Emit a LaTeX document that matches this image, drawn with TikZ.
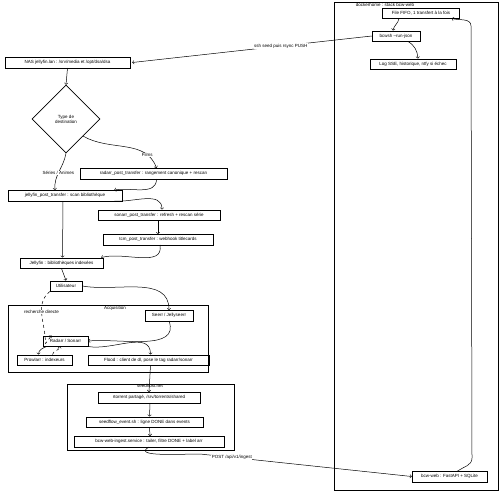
\documentclass[tikz,border=0pt]{standalone}
\usepackage{fontspec}
\setmainfont{Liberation Sans}
\usetikzlibrary{shapes.geometric}
\tikzset{
  boite/.style={draw, line width=0.5pt, inner sep=0pt, minimum height=10.5pt, font=\fontsize{4.5}{5}\selectfont},
  cadre/.style={draw, line width=0.6pt, inner sep=0pt},
  titre/.style={font=\fontsize{4.5}{5}\selectfont, inner sep=0.5pt},
  lien/.style={->, line width=0.5pt},
  etiq/.style={font=\fontsize{4.5}{5}\selectfont, fill=white, inner sep=0.5pt},
}
\begin{document}
\begin{tikzpicture}[x=1pt, y=-1pt]
\useasboundingbox (0,0) rectangle (500,493);
% Frames
              \node[cadre, minimum width=164, minimum height=488] (stack) at (416,246) {};
              \node[titre] (stacktitre) at (385,5) {dockerhome : stack bcw-web};
              \node[cadre, minimum width=200, minimum height=67] (acq) at (108,338.5) {};
              \node[titre] (acqtitre) at (115,308) {Acquisition};
              \node[cadre, minimum width=167, minimum height=66] (seed) at (150.5,417) {};
              \node[titre] (seedtitre) at (150,386) {seedhost.net};
% Stack bcw-web on the right
              \node[boite, minimum width=77] (fifo) at (421,13) {File FIFO, 1 transfert à la fois};
              \node[boite, minimum width=48] (bcwsh) at (396,36) {bcwsh --run-json};
              \node[boite, minimum width=86] (log) at (413,64) {Log SSE, historique, ntfy si échec};
              \node[boite, minimum width=75] (bcwweb) at (449.5,476.5) {bcw-web : FastAPI + SQLite};
% NAS side
              \node[boite, minimum width=125] (nas) at (67.5,62.5) {NAS jellyfin.lan : /srv/media et /opt/dsa/dsa};
              \node[draw, diamond, line width=0.6pt, minimum width=68, minimum height=68, inner sep=0pt, align=center, font=\fontsize{4.5}{5}\selectfont] (dest) at (66,119) {Type de\\destination};
              \node[boite, minimum width=147] (radarrpost) at (153.5,173.5) {radarr\_post\_transfer : rangement canonique + rescan};
              \node[boite, minimum width=114] (jfpost) at (65,195.5) {jellyfin\_post\_transfer : scan bibliothèque};
              \node[boite, minimum width=122] (sonarrpost) at (159,215) {sonarr\_post\_transfer : refresh + rescan série};
              \node[boite, minimum width=110] (tcmpost) at (158,239.5) {tcm\_post\_transfer : webhook titlecards};
              \node[boite, minimum width=83] (jellyfin) at (61.5,263) {Jellyfin : bibliothèques indexées};
              \node[boite, minimum width=32] (util) at (66,286) {Utilisateur};
% Acquisition
              \node[boite, minimum width=48] (seerr) at (169,315.5) {Seerr / Jellyseerr};
              \node[boite, minimum width=45] (arr) at (65.5,341) {Radarr / Sonarr};
              \node[boite, minimum width=55] (prowlarr) at (44.5,360) {Prowlarr : indexeurs};
              \node[boite, minimum width=121] (flood) at (148.5,360) {Flood : client de dl, pose le tag radarr/sonarr};
% Seedbox
              \node[boite, minimum width=102] (rtorrent) at (149,397.5) {rtorrent partagé, /srv/torrents/shared};
              \node[boite, minimum width=117] (seedflow) at (144.5,422) {seedflow\_event.sh : ligne DONE dans events};
              \node[boite, minimum width=150] (ingest) at (149,441.5) {bcw-web-ingest.service : tailer, filtre DONE + label arr};
% Connectors
              \coordinate (montee) at (472,458);
              \coordinate (haut) at (471,26);
              \coordinate (virage) at (200,454);
              \draw[lien] ([xshift=-22pt]fifo.south) to[out=-100,in=80] ([xshift=-3pt]bcwsh.north);
              \draw[lien] (bcwsh.west) -- node[etiq, pos=0.38] {ssh seed puis rsync PUSH} ([xshift=2pt]nas.east);
              \draw[lien] ([xshift=12pt]bcwsh.south) to[out=-30,in=95] ([xshift=5pt]log.north);
              \draw[lien] ([xshift=8pt]bcwweb.north) to[out=35,in=-90] (montee) -- (haut) to[out=90,in=-15] ([xshift=-8pt]fifo.south east);
              \draw[lien] (nas.south) -- (dest.north);
              \draw[lien] (dest.south east) to[out=-30,in=110] node[etiq, pos=0.8] {Films} ([xshift=3pt]radarrpost.north);
              \draw[lien] (dest.south) to[out=-100,in=95] node[etiq, pos=0.55] {Séries / Animes} ([xshift=-10pt]jfpost.north);
              \draw[lien] ([xshift=3pt]radarrpost.south) to[out=-90,in=10] ([xshift=-8pt]jfpost.north east);
              \draw[lien] ([xshift=-8pt]jfpost.south east) to[out=-5,in=90] ([xshift=3pt]sonarrpost.north);
              \draw[lien] ([xshift=-2pt]jfpost.south) -- ([xshift=1pt]jellyfin.north);
              \draw[lien] ([xshift=-1pt]sonarrpost.south) -- (tcmpost.north);
              \draw[lien] ([xshift=2pt]tcmpost.south) to[out=-80,in=15] ([xshift=-2pt]jellyfin.north east);
              \draw[lien] (jellyfin.south) -- (util.north);
              \draw[lien] (util.east) to[out=-10,in=90] (seerr.north);
              \draw[lien, dashed] (util.south west) to[out=-140,in=90] node[etiq, pos=0.45] {recherche directe} ([xshift=-20pt,yshift=-8pt]arr.north) -- ([xshift=-14pt]arr.north);
              \draw[lien] (seerr.south) to[out=-70,in=5] (arr.east);
              \draw[lien] ([xshift=4pt]arr.south west) to[out=-160,in=90] ([xshift=-6pt]prowlarr.north);
              \draw[lien, dashed] ([xshift=8pt]prowlarr.north) to[out=80,in=-90] ([xshift=-6pt]arr.south);
              \draw[lien] (arr.south east) to[out=-10,in=90] ([xshift=2pt]flood.north);
              \draw[lien] ([xshift=2pt]flood.south) -- (rtorrent.north);
              \draw[lien] ([xshift=1pt]rtorrent.south) -- ([xshift=5pt]seedflow.north);
              \draw[lien] ([xshift=5pt]seedflow.south) -- ([xshift=1pt]ingest.north);
              \draw[lien] (ingest.south) to[out=-150,in=180] (virage) -- node[etiq, pos=0.15] {POST /api/v1/ingest} (bcwweb.west);
\end{tikzpicture}
\end{document}
